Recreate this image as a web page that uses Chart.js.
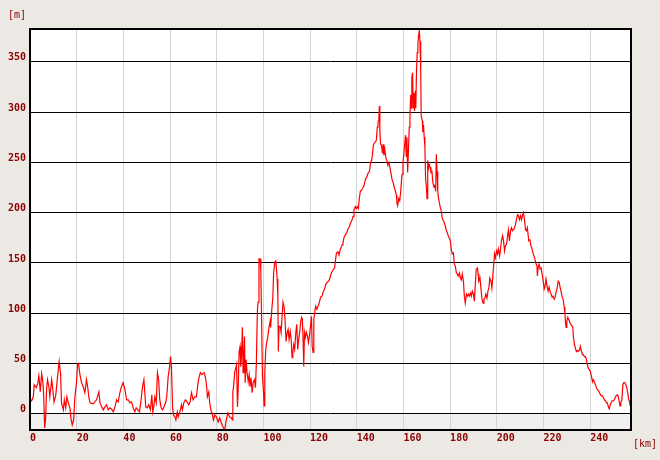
<!DOCTYPE html>
<html><head><meta charset="utf-8">
<script src="https://cdn.jsdelivr.net/npm/chart.js@4/dist/chart.umd.min.js"></script>
<style>html,body{margin:0;padding:0;background:#ECE9E4;}#wrap{width:660px;height:460px;position:relative;}</style>
</head><body><div id="wrap"><canvas id="c"></canvas></div>
<script>
const distanceKm = [
0.0,0.7,1.4,1.8,2.7,3.3,3.8,4.4,5.0,5.4,5.8,6.3,6.7,7.1,7.5,8.1,8.5,9.3,9.7,10.3,11.0,11.8,12.5,13.1,13.5,14.3,14.7,15.3,15.8,16.4,17.1,17.5,18.1,18.7,19.2,19.9,20.4,20.8,21.4,22.1,22.8,23.5,24.2,24.7,25.2,25.7,27.1,28.5,29.5,30.0,30.7,31.4,32.1,32.8,33.5,34.2,34.9,35.7,36.4,37.1,37.8,38.5,39.2,39.9,40.7,41.4,
42.1,42.8,43.5,44.2,44.9,45.5,46.2,46.9,47.6,48.2,48.8,49.2,49.6,50.2,50.9,51.6,52.2,52.6,53.0,53.5,54.1,54.6,55.1,55.6,56.2,56.8,57.4,58.1,58.6,59.2,59.8,60.2,60.6,61.1,61.5,62.1,62.5,63.1,63.5,64.2,64.9,65.3,65.9,66.6,67.3,68.0,68.6,69.2,69.9,70.6,71.3,72.0,72.5,73.0,73.7,74.6,75.2,75.7,76.0,76.6,77.0,77.5,78.0,78.6,79.2,79.9,80.6,81.3,82.0,82.7,83.4,84.1,84.8,85.5,
86.3,86.7,86.9,87.3,87.7,88.5,88.9,89.2,89.6,90.0,90.3,90.7,91.0,91.3,91.6,91.9,92.2,92.6,93.0,93.5,93.9,94.3,94.7,95.2,95.6,96.2,96.6,97.0,97.4,97.7,98.1,98.6,98.9,99.2,99.6,100.0,100.3,100.6,101.0,101.4,101.9,102.4,102.9,103.1,103.6,104.0,104.4,104.9,105.3,105.6,105.9,106.2,106.4,106.7,107.2,107.6,108.0,108.4,108.9,109.3,109.7,110.2,110.6,111.0,111.5,111.9,112.3,112.6,113.0,113.4,113.9,114.3,114.7,115.1,115.6,116.0,116.4,116.7,117.0,117.3,117.6,118.0,118.4,118.9,119.3,119.7,120.2,120.6,120.9,121.3,121.6,122.0,122.4,122.9,123.4,124.0,124.5,125.1,125.7,126.2,126.8,127.4,128.0,128.4,
129.1,129.8,130.5,130.9,131.3,132.0,132.4,132.9,133.7,134.1,134.5,135.1,135.7,136.3,136.8,137.4,138.0,138.4,138.8,139.4,139.8,140.2,140.7,141.1,141.5,141.9,142.5,143.1,143.7,144.2,144.8,145.2,145.6,145.9,146.4,146.8,147.1,147.5,147.9,148.4,148.8,149.1,149.4,149.7,149.9,150.2,150.6,151.0,151.3,151.6,152.0,152.5,152.9,153.3,153.8,154.2,154.6,155.1,155.6,156.1,156.5,157.0,157.2,157.5,158.0,158.4,158.8,159.1,159.4,159.8,160.2,160.5,160.9,161.2,161.5,161.8,162.1,162.5,162.8,163.1,163.4,163.6,163.9,164.2,164.5,164.8,165.1,165.3,165.6,165.9,166.2,166.5,166.8,167.1,167.4,167.6,168.1,168.3,168.6,168.9,169.2,169.5,169.8,170.1,170.4,170.7,
171.0,171.4,171.8,172.2,172.6,173.1,173.5,173.8,174.1,174.4,174.7,175.0,175.4,175.8,176.2,176.6,177.1,177.5,177.9,178.4,178.8,179.2,179.6,180.1,180.5,180.9,181.4,181.8,182.2,182.7,183.1,183.5,184.0,184.4,184.8,185.2,185.7,186.1,186.5,187.0,187.4,187.8,188.2,188.7,189.1,189.5,190.0,190.4,190.8,191.2,191.7,192.0,192.3,192.8,193.2,193.6,194.1,194.5,194.9,195.3,195.8,196.2,196.6,197.0,197.5,197.9,198.3,198.7,199.0,199.4,199.9,200.3,200.7,201.2,201.6,202.0,202.5,202.9,203.3,203.7,204.2,204.6,205.0,205.4,205.9,206.3,206.7,207.2,207.6,208.0,208.4,208.9,209.3,209.7,210.2,210.6,211.0,211.4,211.9,212.3,212.7,213.1,
213.7,214.2,214.6,215.0,215.5,215.9,216.3,216.7,217.2,217.4,217.7,218.1,218.6,219.0,219.4,219.9,220.3,220.7,221.1,221.6,222.0,222.4,222.9,223.3,223.7,224.1,224.6,225.0,225.4,225.8,226.3,226.7,227.1,227.6,228.0,228.4,228.9,229.2,229.5,229.7,230.0,230.4,230.8,231.3,231.7,232.1,232.6,232.8,233.2,233.7,234.1,234.5,234.9,235.4,235.8,236.3,236.7,237.1,237.5,238.0,238.4,238.8,239.3,239.7,240.1,240.6,241.0,241.4,241.9,242.3,242.7,243.1,243.6,244.0,244.4,244.8,245.3,245.7,246.1,246.6,247.0,247.4,247.9,248.2,248.6,249.0,249.4,249.9,250.3,250.7,251.1,251.6,252.0,252.4,252.8,253.1,253.6,254.0,254.4,254.8,255.3,255.7,256.1,256.4,256.7,257.0,257.3
];
const elevationM = [
15,13,17,29,26,30,38,22,40,34,22,-14,-4,24,34,27,17,34,26,12,18,37,52,40,11,4,14,6,17,11,6,-4,-11,-6,16,31,49,50,39,31,27,21,34,27,17,11,10,14,22,11,7,4,7,9,4,6,5,2,7,14,12,21,27,31,24,14,
14,11,12,6,2,6,4,2,14,27,34,21,7,6,9,4,19,2,7,17,11,41,34,14,6,4,7,11,17,37,47,57,47,6,-1,-3,-6,2,-3,2,9,4,11,14,12,9,12,21,14,17,17,31,37,41,39,41,36,27,17,22,11,4,1,-6,-1,-3,-8,-4,-9,-13,-16,-6,1,-3,
-4,-6,22,29,41,49,7,24,62,67,47,61,86,41,57,77,31,54,41,32,39,27,36,21,31,34,26,52,101,111,154,154,142,97,37,24,8,41,64,71,77,86,92,86,104,114,141,151,152,144,134,117,62,87,87,81,97,111,106,92,72,81,84,74,82,74,56,61,69,64,81,89,64,74,82,92,96,94,74,47,81,76,81,77,71,77,87,97,67,61,94,101,107,104,107,111,116,117,122,124,129,131,132,134,
140,143,145,153,160,161,158,163,168,170,175,178,180,184,186,190,193,196,203,206,204,206,204,214,221,222,224,227,233,235,239,240,243,250,252,259,267,269,270,272,285,290,291,306,281,268,267,259,268,257,263,254,252,247,250,245,240,233,230,225,222,217,210,207,214,212,220,230,238,250,259,267,277,256,275,240,259,285,296,317,304,334,339,304,319,301,321,304,341,359,368,376,381,370,341,296,291,280,287,275,265,233,227,214,252,244,
248,245,240,241,230,225,228,221,258,241,221,215,210,205,202,195,192,190,187,182,180,177,175,172,164,159,160,149,147,140,139,137,140,135,133,139,132,117,110,119,117,119,117,120,117,122,119,112,129,144,145,139,132,135,125,115,110,114,115,119,115,122,125,135,132,125,137,149,159,155,162,159,164,157,164,172,177,172,162,167,169,177,183,172,182,185,182,183,185,188,193,198,197,193,197,193,197,200,192,183,182,185,
172,173,167,165,160,157,154,150,147,137,145,149,144,145,139,132,124,127,134,126,122,126,121,119,116,117,114,116,121,124,132,131,126,121,116,114,106,99,89,86,92,96,94,91,89,88,86,77,70,65,62,63,62,63,67,62,59,59,57,57,54,49,45,44,42,37,32,34,31,29,26,24,23,21,19,18,18,16,14,13,11,11,6,5,9,11,13,13,14,16,18,19,18,13,8,11,14,29,31,31,29,26,21,16,13,11,13
];
const xTickValues = [0,20,40,60,80,100,120,140,160,180,200,220,240];
const yTickValues = [0,50,100,150,200,250,300,350];
const yUnitLabel = '[m]';
const xUnitLabel = '[km]';

const points = distanceKm.map((d, i) => ({x: d, y: elevationM[i]}));
const labelColor = '#8B0000';
const tickFont = {family: 'DejaVu Sans Mono', size: 10, weight: 'bold'};

const framePlugin = {
  id: 'frame',
  beforeDraw(chart) {
    const {ctx, chartArea: a, scales: {y}} = chart;
    ctx.save();
    ctx.fillStyle = '#ECE9E4';
    ctx.fillRect(0, 0, chart.width, chart.height);
    ctx.fillStyle = '#FFFFFF';
    ctx.fillRect(a.left, a.top, a.right - a.left, a.bottom - a.top);
    const y0 = y.getPixelForValue(0);
    ctx.fillStyle = '#F0F0F0';
    ctx.fillRect(a.left, y0, a.right - a.left, a.bottom - y0);
    ctx.restore();
  },
  afterDraw(chart) {
    const {ctx, chartArea: a} = chart;
    ctx.save();
    ctx.strokeStyle = '#000';
    ctx.lineWidth = 2;
    ctx.strokeRect(a.left, a.top, a.right - a.left, a.bottom - a.top);
    ctx.fillStyle = labelColor;
    ctx.font = '10px "DejaVu Sans Mono"';
    ctx.textBaseline = 'middle';
    ctx.textAlign = 'left';
    ctx.fillText(yUnitLabel, 8, 15);
    ctx.fillText(xUnitLabel, 633, 444);
    ctx.restore();
  }
};

new Chart(document.getElementById('c'), {
  type: 'line',
  data: {
    datasets: [{
      data: points,
      borderColor: '#FF0000',
      borderWidth: 1.2,
      pointRadius: 0,
      tension: 0,
      fill: false
    }]
  },
  options: {
    responsive: true,
    maintainAspectRatio: false,
    animation: false,
    layout: {padding: {left: 0, right: 29, top: 29, bottom: 0}},
    plugins: {legend: {display: false}, tooltip: {enabled: false}},
    scales: {
      x: {
        type: 'linear',
        min: 0,
        max: 257.5,
        afterFit: s => { s.height = 30; },
        afterBuildTicks: s => { s.ticks = xTickValues.map(v => ({value: v})); },
        grid: {color: '#D4D4D4', lineWidth: 1, drawTicks: false},
        border: {display: false},
        ticks: {align: 'start', padding: 2, color: labelColor, font: tickFont, maxRotation: 0, autoSkip: false}
      },
      y: {
        type: 'linear',
        min: -16,
        max: 382.5,
        afterFit: s => { s.width = 30; },
        afterBuildTicks: s => { s.ticks = yTickValues.map(v => ({value: v})); },
        grid: {color: '#000000', lineWidth: 1, drawTicks: false},
        border: {display: false},
        ticks: {padding: 4, labelOffset: -4, color: labelColor, font: tickFont, autoSkip: false}
      }
    }
  },
  plugins: [framePlugin]
});
</script>
</body></html>
